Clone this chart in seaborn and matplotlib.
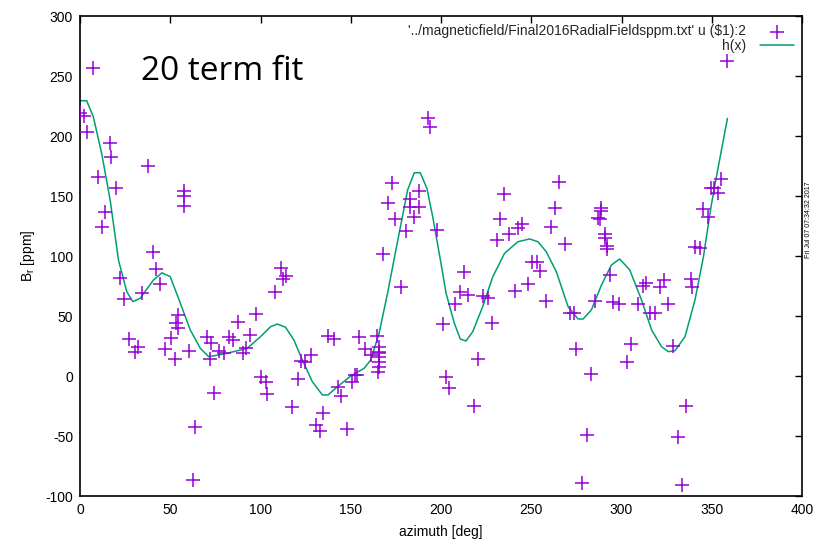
import matplotlib
matplotlib.use("Agg")
import matplotlib.pyplot as plt
import seaborn as sns
import pandas as pd

# ---- measured data points (azimuth [deg], B_r [ppm]) ----
azimuth = [0.0, 2.2, 4.1, 7.0, 10.2, 12.0, 13.9, 16.7, 17.2, 20.0,
           22.2, 24.1, 27.4, 30.2, 32.4, 34.3, 37.4, 40.2, 42.2, 44.1,
           47.2, 50.4, 52.4, 53.3, 54.1, 54.1, 57.4, 57.4, 57.4, 60.2,
           62.6, 63.5, 70.4, 71.9, 72.6, 74.4, 76.9, 79.6, 82.4, 84.8,
           87.6, 90.4, 92.2, 94.1, 97.6, 100.4, 102.8, 103.7, 107.8, 111.1,
           112.6, 114.4, 117.6, 120.7, 122.2, 124.4, 127.8, 130.6, 133.0, 134.8,
           137.4, 140.7, 143.0, 144.4, 147.8, 150.9, 152.2, 153.3, 154.6, 157.8,
           161.1, 164.8, 165.5, 165.5, 165.8, 165.5, 165.5, 165.5, 165.3, 167.6,
           170.4, 173.1, 174.6, 177.8, 180.6, 182.9, 182.9, 184.8, 188.0, 188.0,
           193.0, 194.1, 197.8, 200.9, 202.8, 204.6, 208.0, 210.7, 213.0, 214.8,
           218.1, 220.7, 223.1, 225.9, 228.1, 231.1, 232.9, 234.8, 237.9, 241.1,
           242.9, 245.0, 248.1, 250.4, 253.1, 255.0, 257.9, 261.1, 262.9, 265.2,
           268.5, 271.3, 273.7, 275.0, 278.2, 281.1, 283.3, 285.2, 287.0, 288.5,
           288.5, 287.9, 291.1, 291.1, 291.7, 292.2, 293.5, 295.4, 298.5, 303.3,
           305.2, 308.9, 311.7, 313.5, 315.7, 318.5, 321.3, 323.7, 325.6, 328.3,
           331.1, 333.3, 335.6, 338.5, 338.9, 340.7, 343.5, 345.4, 347.8, 349.6,
           351.5, 353.7, 355.2, 358.7]
field = [219.0, 216.7, 203.6, 256.4, 165.5, 124.4, 136.4, 194.0, 182.8, 157.0,
         82.0, 64.0, 30.5, 20.3, 24.4, 69.0, 175.0, 103.0, 89.0, 76.4,
         22.2, 31.4, 14.2, 43.9, 50.8, 39.7, 154.4, 150.0, 141.7, 21.1,
         -86.7, -42.2, 32.2, 13.9, 27.2, -14.4, 20.8, 19.4, 32.8, 30.0,
         45.3, 19.4, 23.0, 34.2, 51.7, -1.1, -4.7, -15.3, 69.7, 89.7,
         80.6, 83.3, -25.6, -2.8, 12.8, 11.9, 17.5, -40.8, -45.6, -31.1,
         33.3, 31.1, -9.4, -16.7, -44.4, -4.7, 0.8, 0.8, 32.8, 22.2,
         17.5, 33.3, 24.4, 20.3, 19.4, 16.1, 11.9, 7.8, 3.6, 101.7,
         144.4, 161.1, 130.6, 74.4, 121.1, 147.5, 141.1, 132.8, 154.2, 140.6,
         214.7, 207.8, 121.7, 43.3, -0.6, -10.3, 60.0, 70.3, 86.9, 67.5,
         -24.7, 13.9, 66.7, 65.3, 43.9, 113.3, 130.8, 151.7, 118.0, 70.8,
         123.0, 126.7, 76.4, 95.3, 95.3, 87.5, 62.5, 124.4, 139.7, 161.9,
         110.0, 52.8, 52.2, 22.2, -88.9, -49.2, 1.7, 62.5, 131.4, 139.7,
         137.8, 130.8, 118.0, 115.3, 108.3, 105.6, 84.2, 61.4, 60.0, 11.9,
         26.7, 60.0, 75.3, 77.2, 52.2, 52.2, 74.4, 80.0, 59.7, 25.3,
         -51.1, -90.8, -25.0, 80.6, 74.4, 107.8, 106.4, 138.9, 132.2, 157.0,
         156.4, 152.8, 164.2, 262.8]

# ---- fitted curve h(x) ----
fit_x = [0.0, 3.7, 7.4, 12.0, 16.7, 21.3, 25.9, 29.3, 33.3, 40.7,
         45.4, 50.0, 55.6, 61.1, 66.7, 71.3, 79.6, 92.6, 100.0, 105.6,
         109.3, 113.9, 118.5, 123.2, 128.7, 134.3, 137.4, 142.6, 150.0, 157.4,
         161.1, 165.7, 170.4, 174.0, 181.5, 185.2, 188.5, 192.2, 195.4, 199.6,
         202.8, 207.4, 210.7, 213.9, 217.6, 223.1, 228.7, 235.2, 242.6, 249.1,
         253.7, 258.3, 263.9, 270.4, 275.9, 278.7, 283.3, 288.9, 294.4, 299.0,
         304.6, 311.1, 316.7, 322.2, 325.9, 329.6, 335.2, 340.7, 345.4, 349.6,
         351.9, 358.7]
fit_y = [229.4, 229.4, 216.0, 185.5, 146.7, 96.7, 70.3, 62.0, 64.7, 80.0,
         86.0, 82.8, 60.6, 38.3, 23.0, 16.1, 18.3, 23.0, 32.8, 41.1,
         43.3, 40.6, 30.0, 13.3, -4.7, -15.8, -15.8, -8.9, 0.0, 6.4,
         13.3, 35.6, 69.0, 97.2, 155.0, 169.4, 169.4, 156.4, 132.8, 97.2,
         69.0, 43.9, 30.8, 29.2, 37.0, 57.8, 82.8, 102.2, 111.9, 114.2,
         111.9, 103.6, 86.9, 57.8, 47.5, 47.5, 55.0, 75.8, 92.5, 97.5,
         88.3, 63.3, 38.3, 24.4, 20.3, 21.0, 32.8, 63.3, 99.4, 141.1,
         160.6, 214.7]

x_ticks = [0, 50, 100, 150, 200, 250, 300, 350, 400]
y_ticks = [-100, -50, 0, 50, 100, 150, 200, 250, 300]

data_label = "'../magneticfield/Final2016RadialFieldsppm.txt' u (\\$1):2"
fit_label = "h(x)"

pts = pd.DataFrame({"azimuth": azimuth, "Br": field})
fit = pd.DataFrame({"azimuth": fit_x, "Br": fit_y})

sns.set_theme(style="white")
plt.rcParams["font.family"] = ["Liberation Sans", "DejaVu Sans"]
plt.rcParams["axes.unicode_minus"] = False

fig = plt.figure(figsize=(8.19, 5.43), dpi=100)
ax = fig.add_axes([80 / 819, 47 / 543, 722 / 819, 480 / 543])

sns.scatterplot(data=pts, x="azimuth", y="Br", ax=ax, marker="+", s=100,
                color="#9400d3", linewidth=1.1, label=data_label, zorder=3)
sns.lineplot(data=fit, x="azimuth", y="Br", ax=ax, color="#009e73",
             linewidth=1.1, label=fit_label, sort=False, zorder=2)

ax.set_xlim(0, 400)
ax.set_ylim(-100, 300)
ax.set_xticks(x_ticks)
ax.set_yticks(y_ticks)
ax.tick_params(direction="in", length=5, width=1, top=True, right=True,
               labelsize=10, colors="black", pad=5)
ax.tick_params(axis="x", labeltop=False)
ax.tick_params(axis="y", labelright=False)
for sp in ax.spines.values():
    sp.set_color("black")
    sp.set_linewidth(1.2)
ax.set_xlabel("azimuth [deg]", fontsize=10, color="black", labelpad=6)
ax.set_ylabel(r"B$_\mathregular{r}$ [ppm]", fontsize=10, color="black", labelpad=6)

leg = ax.legend(loc="upper right", frameon=False, markerfirst=False,
                fontsize=10, handlelength=2.4, borderaxespad=0.2,
                labelspacing=0.05, handletextpad=1.0)
for t in leg.get_texts():
    t.set_ha("right")

ax.text(34, 247, "20 term fit", fontsize=24, family=["Open Sans", "DejaVu Sans"],
        color="black", ha="left", va="baseline")

fig.text(809 / 819, 1 - 258 / 543, "Fri Jul 07 07:34:32 2017", rotation=90,
         fontsize=5, ha="center", va="bottom", color="black")

fig.savefig("out.png", dpi=100)
